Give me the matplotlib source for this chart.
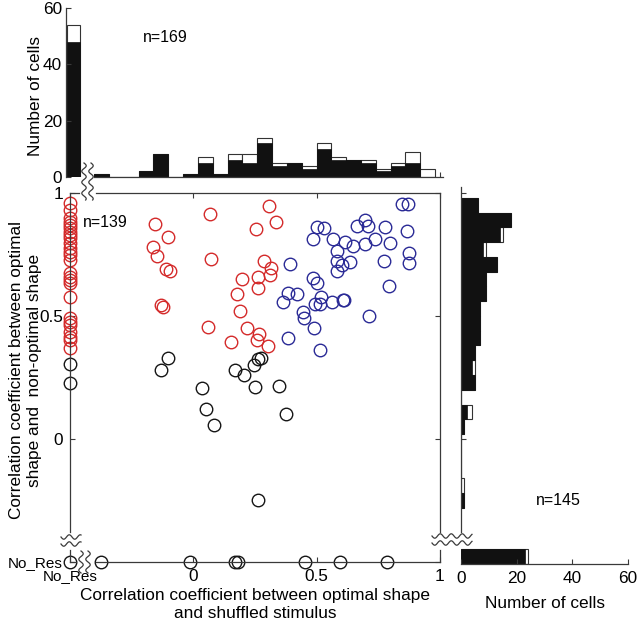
import numpy as np
import matplotlib
matplotlib.use('Agg')
import matplotlib.pyplot as plt
from matplotlib.lines import Line2D

plt.rcParams['font.family'] = ['Liberation Sans', 'DejaVu Sans']
plt.rcParams['font.size'] = 12.4

NO_RES = -0.5

# red cells: no response to shuffled stimulus (left column) + scattered
red_nores_y = [0.958, 0.931, 0.897, 0.883, 0.870, 0.856, 0.843, 0.829, 0.816, 0.795,
               0.775, 0.761, 0.748, 0.728, 0.674, 0.660, 0.646, 0.633, 0.578, 0.491,
               0.477, 0.463, 0.436, 0.416, 0.402, 0.369]
red_x = [-0.154, -0.102, -0.163, -0.147, -0.109, -0.093, -0.130, -0.124,
         0.066, 0.305, 0.336, 0.254, 0.073, 0.285, 0.314, 0.197, 0.262, 0.309,
         0.262, 0.177, 0.190, 0.058, 0.217, 0.268, 0.258, 0.153, 0.302]
red_y = [0.873, 0.820, 0.782, 0.744, 0.690, 0.683, 0.545, 0.538,
         0.913, 0.948, 0.883, 0.854, 0.732, 0.724, 0.696, 0.650, 0.659, 0.667,
         0.615, 0.588, 0.520, 0.457, 0.453, 0.427, 0.402, 0.393, 0.379]

blue_x = [0.393, 0.382, 0.420, 0.363, 0.444, 0.449, 0.383,
          0.845, 0.872, 0.503, 0.530, 0.663, 0.694, 0.707, 0.775, 0.868, 0.485,
          0.568, 0.613, 0.649, 0.696, 0.737, 0.798, 0.582, 0.876, 0.876, 0.582,
          0.602, 0.636, 0.584, 0.771, 0.485, 0.501, 0.795, 0.517, 0.494, 0.514,
          0.564, 0.605, 0.611, 0.490, 0.714, 0.514]
blue_y = [0.713, 0.595, 0.588, 0.558, 0.515, 0.490, 0.409,
          0.955, 0.955, 0.861, 0.859, 0.867, 0.890, 0.867, 0.863, 0.847, 0.813,
          0.812, 0.800, 0.786, 0.793, 0.813, 0.795, 0.765, 0.755, 0.714, 0.724,
          0.707, 0.721, 0.683, 0.724, 0.656, 0.633, 0.623, 0.578, 0.549, 0.548,
          0.558, 0.565, 0.565, 0.450, 0.500, 0.362]

black_nores_y = [0.305, 0.229]
black_x = [-0.102, -0.130, 0.275, 0.262, 0.247, 0.170, 0.204, 0.035, 0.053,
           0.085, 0.248, 0.349, 0.377, 0.262]
black_y = [0.328, 0.280, 0.330, 0.325, 0.301, 0.280, 0.260, 0.209, 0.121,
           0.057, 0.213, 0.217, 0.102, -0.248]
# cells with no response on the y measure (bottom row)
bottom_nores_x = [NO_RES, -0.374, -0.012, 0.170, 0.183, 0.451, 0.595, 0.784]

# top histogram (x distribution)
top_edges = np.round(np.arange(-0.40, 0.981, 0.06), 2)
top_black = [1, 0, 0, 2, 8, 0, 1, 5, 1, 6, 5, 12, 4, 5, 3, 10, 6, 6, 5, 2, 4, 5, 0]
top_total = [1, 0, 0, 2, 8, 0, 1, 7, 1, 8, 8, 14, 5, 5, 4, 12, 7, 6, 6, 3, 5, 9, 3]
top_nores_black, top_nores_total = 48, 54

# right histogram (y distribution), bottom to top
right_edges = np.round(np.arange(-0.28, 0.981, 0.06), 2)
right_black = [1, 0, 0, 0, 0, 1, 2, 0, 5, 4, 5, 7, 7, 7, 9, 9, 13, 8, 14, 18, 6]
right_total = [1, 1, 0, 0, 0, 1, 4, 0, 5, 5, 5, 7, 7, 7, 9, 9, 13, 9, 15, 18, 6]
right_nores_black, right_nores_total = 23, 24

W, H = 640, 633
fig = plt.figure(figsize=(W / 100, H / 100), dpi=100)
frame_col = '#3a3a3a'


def px_line(xs, ys, **kw):
    kw.setdefault('color', frame_col)
    kw.setdefault('lw', 0.9)
    fig.add_artist(Line2D(np.asarray(xs) / W, 1 - np.asarray(ys) / H,
                          transform=fig.transFigure, **kw))


def squiggle(x0, y0, length, vertical):
    s = np.linspace(0, length, 80)
    w = 2.2 * np.sin(2 * np.pi * s / 11)
    if vertical:
        px_line(x0 + w, y0 + s)
    else:
        px_line(x0 + s, y0 + w)


# ---------------- main scatter ----------------
ax = fig.add_axes([70 / W, 1 - 562 / H, 370 / W, 369 / H])
ax.set_xlim(-0.5, 1.0)
ax.set_ylim(-0.5, 1.0)
for sp in ax.spines.values():
    sp.set_visible(False)

mk = dict(ls='none', marker='o', mfc='none', ms=9, mew=1.0, clip_on=False)
ax.plot([NO_RES] * len(red_nores_y), red_nores_y, mec='#d42a2a', **mk)
ax.plot(red_x, red_y, mec='#d42a2a', **mk)
ax.plot(blue_x, blue_y, mec='#2a2a96', **mk)
ax.plot([NO_RES] * len(black_nores_y), black_nores_y, mec='#151515', **mk)
ax.plot(black_x, black_y, mec='#151515', **mk)
ax.plot(bottom_nores_x, [NO_RES] * len(bottom_nores_x), mec='#151515', **mk)

ax.set_xticks([-0.5, 0, 0.5, 1])
ax.set_xticklabels(['No_Res', '0', '0.5', '1'])
ax.set_yticks([-0.5, 0, 0.5, 1])
ax.set_yticklabels(['No_Res', '0', '0.5', '1'])
ax.get_xticklabels()[0].set_fontsize(11)
ax.get_yticklabels()[0].set_fontsize(11)
ax.tick_params(direction='in', top=True, right=True, length=3.5, width=0.8,
               color=frame_col, pad=5)
ax.text(-0.449, 0.882, 'n=139', ha='left', va='center', fontsize=11.5)
ax.set_xlabel('Correlation coefficient between optimal shape\nand shuffled stimulus',
              labelpad=3)
ax.set_ylabel('Correlation coefficient between optimal\nshape and  non-optimal shape')
ax.yaxis.set_label_coords(-0.077, 0.52)

# ---------------- top histogram ----------------
axt = fig.add_axes([66 / W, 1 - 177 / H, 377 / W, 169 / H])
axt.set_xlim(-0.514, 1.012)
axt.set_ylim(0, 60)
axt.bar(top_edges[:-1], top_total, width=0.06, align='edge', color='white',
        edgecolor='#333333', lw=0.8)
axt.bar(top_edges[:-1], top_black, width=0.06, align='edge', color='#111111',
        edgecolor='#111111', lw=0.5)
axt.bar(-0.51, top_nores_total, width=0.054, align='edge', color='white',
        edgecolor='#333333', lw=0.8)
axt.bar(-0.51, top_nores_black, width=0.054, align='edge', color='#111111',
        edgecolor='#111111', lw=0.5)
axt.spines['top'].set_visible(False)
axt.spines['right'].set_visible(False)
axt.spines['bottom'].set_bounds(-0.40, 1.012)
for sp in axt.spines.values():
    sp.set_color(frame_col)
    sp.set_linewidth(0.9)
axt.set_yticks([0, 20, 40, 60])
axt.set_xticks([1.0])
axt.set_xticklabels([])
axt.tick_params(direction='in', length=3.5, width=0.8, color=frame_col, pad=3)
axt.set_ylabel('Number of cells')
axt.yaxis.set_label_coords(-0.062, 0.48)
axt.text(-0.113, 49.7, 'n=169', ha='center', va='center', fontsize=11.5)

# ---------------- right histogram ----------------
axr = fig.add_axes([461 / W, 1 - 564 / H, 167 / W, 377 / H])
axr.set_xlim(0, 60)
axr.set_ylim(-0.508, 1.024)
axr.barh(right_edges[:-1], right_total, height=0.06, align='edge', color='white',
         edgecolor='#333333', lw=0.8)
axr.barh(right_edges[:-1], right_black, height=0.06, align='edge', color='#111111',
         edgecolor='#111111', lw=0.5)
axr.barh(-0.508, right_nores_total, height=0.062, align='edge', color='white',
         edgecolor='#333333', lw=0.8)
axr.barh(-0.508, right_nores_black, height=0.062, align='edge', color='#111111',
         edgecolor='#111111', lw=0.5)
axr.spines['top'].set_visible(False)
axr.spines['right'].set_visible(False)
axr.spines['left'].set_bounds(-0.378, 1.024)
for sp in axr.spines.values():
    sp.set_color(frame_col)
    sp.set_linewidth(0.9)
axr.set_xticks([0, 20, 40, 60])
axr.set_yticks([0, 1.0])
axr.set_yticklabels([])
axr.tick_params(direction='in', length=3.5, width=0.8, color=frame_col, pad=5)
axr.set_xlabel('Number of cells')
axr.xaxis.set_label_coords(0.503, -0.085)
axr.text(34.9, -0.248, 'n=145', ha='center', va='center', fontsize=11.5)

# ---------------- broken frame of the main axes ----------------
px_line([70, 79], [193, 193])
px_line([96, 440], [193, 193])
px_line([70, 70], [193, 532])
px_line([70, 70], [550, 562])
px_line([70, 76], [562, 562])
px_line([96, 440], [562, 562])
px_line([440, 440], [193, 532])
px_line([440, 440], [550, 562])

squiggle(84, 163, 37, True)
squiggle(91, 163, 37, True)
squiggle(81, 551, 22, True)
squiggle(88, 551, 22, True)
squiggle(61, 537, 20, False)
squiggle(61, 544, 20, False)
squiggle(432, 536, 40, False)
squiggle(432, 543, 40, False)

fig.savefig('out.png', dpi=100)
